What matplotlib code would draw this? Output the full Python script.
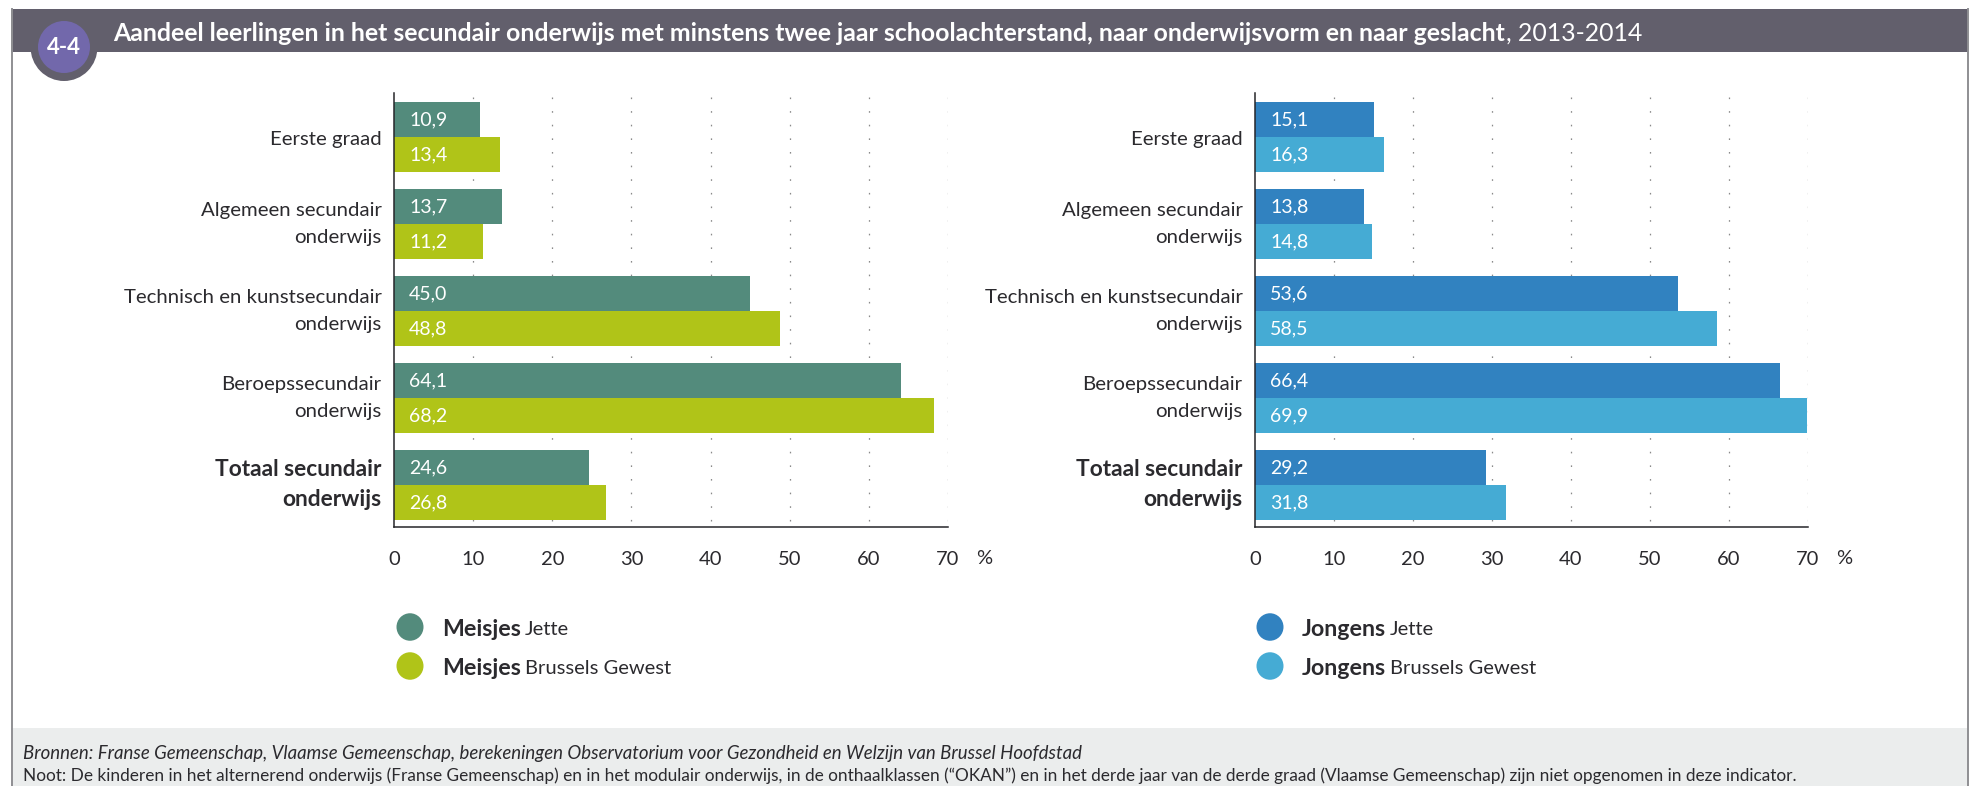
import matplotlib
matplotlib.use("Agg")
import matplotlib.pyplot as plt
from matplotlib.patches import Rectangle, Ellipse
from matplotlib.transforms import ScaledTranslation

W, H = 1974, 786
FONT = "Lato"

categories = ["Eerste graad", "Algemeen secundair\nonderwijs",
              "Technisch en kunstsecundair\nonderwijs", "Beroepssecundair\nonderwijs",
              "Totaal secundair\nonderwijs"]
meisjes_jette = [10.9, 13.7, 45.0, 64.1, 24.6]
meisjes_brussel = [13.4, 11.2, 48.8, 68.2, 26.8]
jongens_jette = [15.1, 13.8, 53.6, 66.4, 29.2]
jongens_brussel = [16.3, 14.8, 58.5, 69.9, 31.8]
x_ticks = [0, 10, 20, 30, 40, 50, 60, 70]
title_bold = "Aandeel leerlingen in het secundair onderwijs met minstens twee jaar schoolachterstand, naar onderwijsvorm en naar geslacht"
title_rest = ", 2013-2014"
source = "Bronnen: Franse Gemeenschap, Vlaamse Gemeenschap, berekeningen Observatorium voor Gezondheid en Welzijn van Brussel Hoofdstad"
note = "Noot: De kinderen in het alternerend onderwijs (Franse Gemeenschap) en in het modulair onderwijs, in de onthaalklassen (“OKAN”) en in het derde jaar van de derde graad (Vlaamse Gemeenschap) zijn niet opgenomen in deze indicator."

GREEN, LIME = "#538b7c", "#b0c418"
BLUE, SKY = "#3182c0", "#45abd4"
DARK, TXT = "#625f6c", "#2b2a2e"

plt.rcParams["font.family"] = [FONT, "DejaVu Sans"]
fig = plt.figure(figsize=(W / 100, H / 100), dpi=100, facecolor="white")
bg = fig.add_axes([0, 0, 1, 1], zorder=0)
bg.set_xlim(0, W); bg.set_ylim(H, 0); bg.axis("off")

bg.add_patch(Rectangle((11, 728), 1957, 58, fc="#ebeded", ec="none"))
bg.plot([11.5, 11.5], [9, 786], color="#8f8f93", lw=1.4)
bg.plot([1968, 1968], [9, 786], color="#8f8f93", lw=1.4)
bg.add_patch(Rectangle((11, 9), 1957, 43, fc=DARK, ec="none"))
bg.add_patch(Ellipse((64, 47), 67, 68, fc=DARK, ec="none"))
bg.add_patch(Ellipse((64, 47), 52, 52, fc="#7268ab", ec="none"))
bg.text(64, 47, "4-4", color="white", fontsize=16, fontweight="bold", ha="center", va="center")

t = bg.text(113, 41, title_bold, color="white", fontsize=17.93, fontweight="bold", va="baseline")
fig.canvas.draw()
r = fig.canvas.get_renderer()
bg.text(t.get_window_extent(r).x1 + 1, 41, title_rest, color="white", fontsize=17.93, va="baseline")

bg.text(23, 754, source, color=TXT, fontsize=13.45, style="italic", va="center")
bg.text(23, 776, note, color=TXT, fontsize=12.41, va="center")


def panel(x0, x70, a, b, c1, c2, name, leg_x):
    top, bottom = 93, 527
    ax = fig.add_axes([x0 / W, 1 - bottom / H, (x70 - x0) / W, (bottom - top) / H], zorder=1)
    ax.patch.set_alpha(0)
    ax.set_xlim(0, 70)
    ax.set_ylim((bottom - 137) / 87, (top - 137) / 87)
    for s in ("top", "right"):
        ax.spines[s].set_visible(False)
    for s in ("left", "bottom"):
        ax.spines[s].set_color("#26262a")
        ax.spines[s].set_linewidth(1.1)
    ax.vlines(x_ticks[1:], (97 - 137) / 87, (bottom - 137) / 87, color="#8a8a8a",
              lw=0.9, linestyles=[(0, (1.3, 9.6))], zorder=0)
    h = 35 / 87
    for i, (u, v) in enumerate(zip(a, b)):
        ax.barh(i - h / 2, u, height=h, color=c1, zorder=2)
        ax.barh(i + h / 2, v, height=h, color=c2, zorder=2)
        for val, y in ((u, i - h / 2), (v, i + h / 2)):
            ax.text(1.9, y, f"{val:.1f}".replace(".", ","), color="white", fontsize=14,
                    va="center", ha="left", zorder=3)
    ax.set_yticks(range(5))
    ax.set_yticklabels(categories, fontsize=14.7, color=TXT, linespacing=1.7)
    labels = ax.get_yticklabels()
    labels[-1].set_fontweight("bold")
    labels[-1].set_fontsize(16.4)
    labels[-1].set_linespacing(1.5)
    ax.tick_params(axis="y", length=0, pad=9)
    for lab, dy in zip(labels, (-1, 6.3, 6.3, 6.3, 7)):
        lab.set_transform(lab.get_transform() + ScaledTranslation(0, dy / 100, fig.dpi_scale_trans))
    ax.set_xticks(x_ticks)
    ax.set_xticklabels([str(v) for v in x_ticks], fontsize=14.5, color=TXT)
    ax.tick_params(axis="x", length=0, pad=17.5)
    bg.text(x70 + 36, 558.5, "%", fontsize=14.5, color=TXT, ha="center", va="center")
    for y, col, lab in ((627, c1, "Jette"), (666, c2, "Brussels Gewest")):
        bg.add_patch(Ellipse((leg_x, y), 27, 27.5, fc=col, ec="none"))
        tt = bg.text(leg_x + 32, y + 2.5, name, fontsize=16.7, fontweight="bold", color=TXT, va="center")
        bg.text(tt.get_window_extent(r).x1 + 4, y + 2.5, lab, fontsize=14.5, color=TXT, va="center")


panel(394, 948, meisjes_jette, meisjes_brussel, GREEN, LIME, "Meisjes", 410)
panel(1255, 1808, jongens_jette, jongens_brussel, BLUE, SKY, "Jongens", 1270)

fig.savefig("out.png", dpi=100)
